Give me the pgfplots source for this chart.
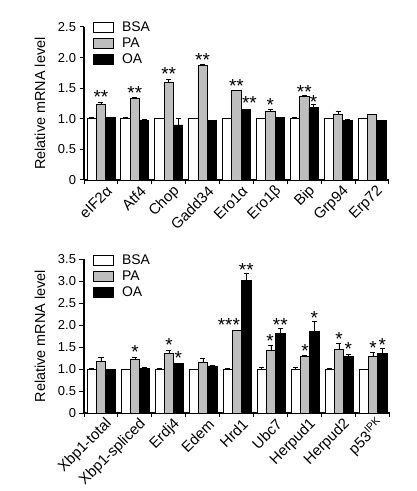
\documentclass[border=0pt]{standalone}
\usepackage{fontspec}
\setmainfont{Liberation Sans}
\usepackage{pgfplots}
\pgfplotsset{compat=1.18}
\usepackage{pgfplotstable}
\definecolor{pagray}{HTML}{BEBEBE}

\pgfplotstableread{
x BSA bsaE PA paE OA oaE
0 1.00 0.02 1.23 0.03 1.02 0.01
1 1.00 0.02 1.335 0.02 0.98 0.01
2 1.00 0.01 1.59 0.05 0.90 0.10
3 1.00 0.01 1.875 0.015 0.97 0.0
4 1.00 0.01 1.46 0.01 1.16 0.0
5 1.00 0.01 1.12 0.04 1.02 0.01
6 1.00 0.02 1.37 0.01 1.18 0.05
7 1.00 0.01 1.08 0.04 0.98 0.01
8 1.00 0.0 1.065 0.0 0.97 0.01
}\topdata

\pgfplotstableread{
x y t
0 1.42 **
1 1.49 **
2 1.80 **
3 2.03 **
4 1.60 **
4.38 1.32 **
5 1.29 *
6 1.51 **
6.275 1.335 *
}\topstars

\pgfplotstableread{
x BSA bsaE PA paE OA oaE
0 1.00 0.02 1.17 0.10 1.00 0.0
1 1.00 0.0 1.22 0.05 1.02 0.01
2 1.00 0.02 1.36 0.07 1.12 0.0
3 1.00 0.0 1.15 0.10 1.07 0.01
4 1.00 0.01 1.88 0.0 3.02 0.15
5 1.00 0.03 1.43 0.11 1.81 0.11
6 1.00 0.03 1.29 0.01 1.85 0.24
7 1.00 0.01 1.45 0.14 1.28 0.06
8 1.00 0.0 1.29 0.09 1.36 0.10
}\botdata

\pgfplotstableread{
x y t
1 1.47 *
2 1.64 *
2.275 1.34 *
3.76 2.09 ***
4.275 3.33 **
4.97 1.73 *
5.275 2.09 **
6 1.51 *
6.275 2.26 *
7 1.77 *
7.275 1.55 *
8 1.56 *
8.275 1.64 *
}\botstars

\pgfplotsset{
  myaxis/.style={
    scale only axis,
    clip=false,
    axis lines=left,
    axis line style={-, line width=1.1bp},
    tick align=outside,
    major tick length=4.5bp,
    tick style={black, line width=1bp},
    xmin=-0.5, xmax=8.5, ymin=0,
    xtick={-0.5,0.5,...,8.5},
    x tick label as interval,
    yticklabel style={font=\fontsize{13}{15}\selectfont},
    xticklabel style={font=\fontsize{15}{17}\selectfont, rotate=45, anchor=east, inner sep=1bp, xshift=4bp, yshift=-9bp},
    ylabel={Relative mRNA level},
    ylabel style={font=\fontsize{14.5}{16}\selectfont, anchor=center},
    legend cell align=left,
    legend style={draw=none, fill=none, font=\fontsize{14}{16}\selectfont,
      row sep=2bp, column sep=7bp, anchor=north west,
      nodes={inner sep=1bp, text height=10bp, text depth=2bp}},
    legend image code/.code={\draw[#1, line width=0.8bp] (0bp,-5bp) rectangle (20bp,5bp);},
  },
  mybar/.style={ybar, bar width=0.275, bar shift=0, line width=0.8bp, draw=black,
    error bars/y dir=plus, error bars/y explicit,
    error bars/error bar style={line width=0.8bp, black},
    error bars/error mark options={black, mark size=2.5bp, line width=0.8bp, rotate=90}},
  mystars/.style={draw=none, mark=none, forget plot, nodes near coords,
    point meta=explicit symbolic,
    every node near coord/.style={anchor=center, inner sep=0pt, yshift=-4bp,
      font=\fontsize{19}{20}\selectfont}},
}

\begin{document}
\begin{tikzpicture}
\path[use as bounding box] (0,0) rectangle (417bp,491bp);

\begin{axis}[myaxis,
  at={(84bp,311bp)}, anchor=south west,
  width=305bp, height=153bp,
  ymax=2.5, ytick={0,0.5,...,2.5},
  yticklabels={0,0.5,1.0,1.5,2.0,2.5},
  ylabel style={at={(axis description cs:-0.144,0.5)}},
  legend style={at={(axis description cs:0.02,1.055)}},
  xticklabels={eIF2α,Atf4,Chop,Gadd34,Ero1α,Ero1β,Bip,Grp94,Erp72},
]
\addplot[mybar, fill=white] table[x expr=\thisrow{x}-0.275, y=BSA, y error=bsaE]{\topdata};
\addplot[mybar, fill=pagray] table[x=x, y=PA, y error=paE]{\topdata};
\addplot[mybar, fill=black] table[x expr=\thisrow{x}+0.275, y=OA, y error=oaE]{\topdata};
\legend{BSA,PA,OA}
\addplot[mystars] table[x=x, y=y, meta=t]{\topstars};
\end{axis}

\begin{axis}[myaxis,
  at={(84bp,78bp)}, anchor=south west,
  width=306bp, height=154bp,
  ymax=3.5, ytick={0,0.5,...,3.5},
  yticklabels={0,0.5,1.0,1.5,2.0,2.5,3.0,3.5},
  ylabel style={at={(axis description cs:-0.144,0.5)}},
  legend style={at={(axis description cs:0.02,1.05)}},
  xticklabels={Xbp1-total,Xbp1-spliced,Erdj4,Edem,Hrd1,Ubc7,Herpud1,Herpud2,p53\textsuperscript{IPK}},
]
\addplot[mybar, fill=white] table[x expr=\thisrow{x}-0.275, y=BSA, y error=bsaE]{\botdata};
\addplot[mybar, fill=pagray] table[x=x, y=PA, y error=paE]{\botdata};
\addplot[mybar, fill=black] table[x expr=\thisrow{x}+0.275, y=OA, y error=oaE]{\botdata};
\legend{BSA,PA,OA}
\addplot[mystars] table[x=x, y=y, meta=t]{\botstars};
\end{axis}
\end{tikzpicture}
\end{document}
